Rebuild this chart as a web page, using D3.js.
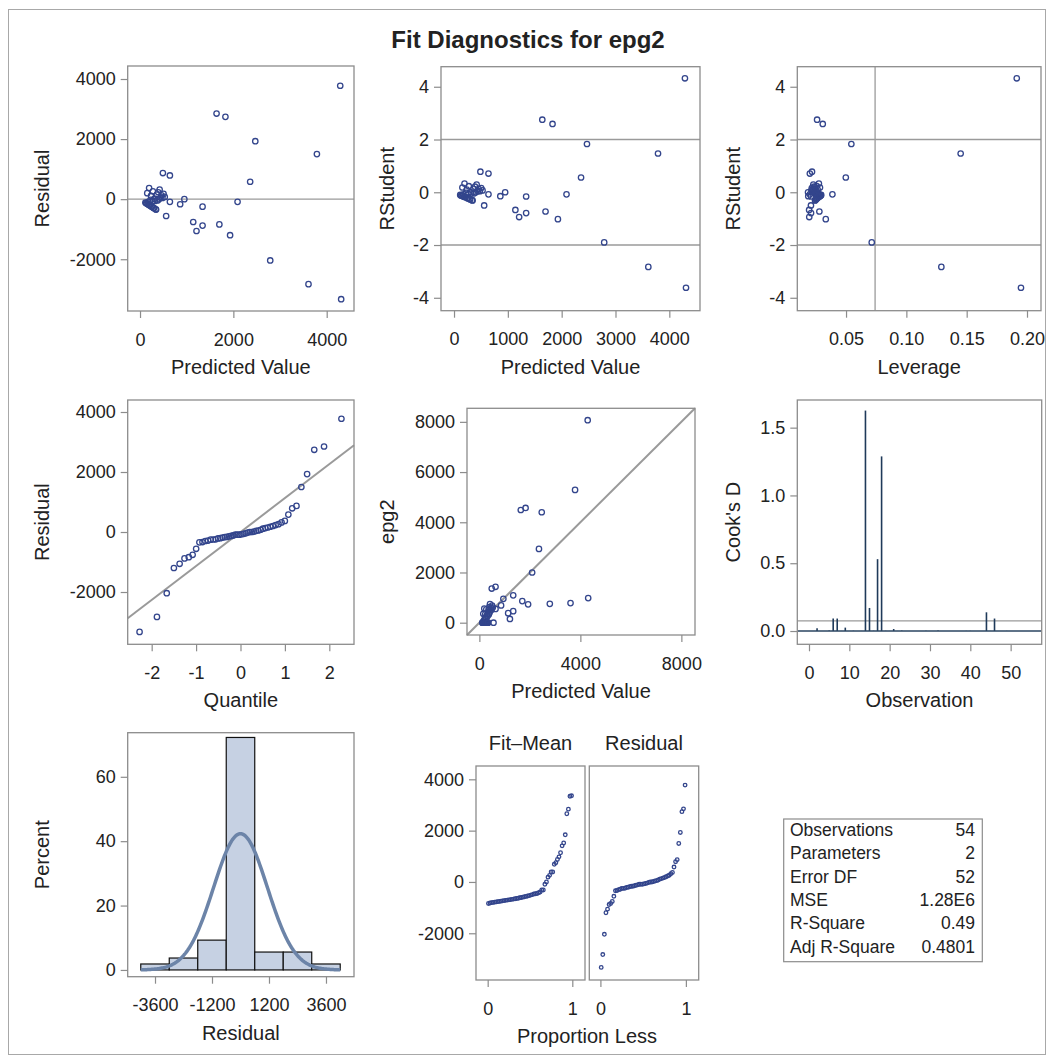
<!DOCTYPE html>
<html>
<head>
<meta charset="utf-8">
<script src="https://cdn.jsdelivr.net/npm/d3@7"></script>
<style>
  body { margin: 0; background: #fff; }
  text { font-family: "Liberation Sans", Arial, sans-serif; fill: #222; }
</style>
</head>
<body>
<svg id="chart" width="1053" height="1061"></svg>
<script>
// Per-observation values (observation 1..54)

const predicted = [115, 2360, 130, 145, 490, 1640, 1830, 155, 1930, 165, 1140, 175, 185, 4290, 3790, 640, 3610, 4310,
  195, 205, 1700, 215, 1210, 225, 235, 1340, 245, 255, 560, 265, 275, 1340, 285, 300, 950, 310, 320, 860, 335, 345,
  2090, 360, 375, 2790, 390, 2470, 405, 640, 420, 440, 460, 480, 505, 530];

const residual = [-115, 580, -130, -145, 870, 2850, 2740, 200, -1200, -165, -760, -90, -185, 3775, 1500, 790, -2830, -3330,
  370, -205, -840, -215, -1060, -20, 110, -250, -245, -255, -560, -75, 260, -880, -285, -300, 0, 15, -60, -170, -335, -345,
  -90, 150, -45, -2040, 230, 1930, 0, -90, 320, 50, 130, 40, 175, 75];

const rstudent = [-0.10, 0.56, -0.12, -0.13, 0.78, 2.75, 2.59, 0.18, -1.02, -0.15, -0.67, -0.08, -0.17, 4.32, 1.47, 0.71, -2.83, -3.62,
  0.33, -0.18, -0.73, -0.19, -0.94, -0.02, 0.10, -0.16, -0.22, -0.23, -0.50, -0.07, 0.23, -0.79, -0.25, -0.27, 0.00, 0.01, -0.05, -0.15, -0.30, -0.31,
  -0.08, 0.13, -0.04, -1.90, 0.21, 1.83, 0.00, -0.08, 0.29, 0.04, 0.12, 0.04, 0.16, 0.07];

const leverage = [0.0294, 0.0498, 0.0291, 0.0287, 0.0218, 0.0260, 0.0307, 0.0284, 0.0332, 0.0282, 0.0194, 0.0279, 0.0277, 0.1915, 0.1450, 0.0200, 0.1290, 0.1950,
  0.0275, 0.0272, 0.0279, 0.0270, 0.0195, 0.0268, 0.0265, 0.0210, 0.0263, 0.0261, 0.0209, 0.0259, 0.0257, 0.0210, 0.0255, 0.0252, 0.0185, 0.0250, 0.0248, 0.0187, 0.0245, 0.0243,
  0.0387, 0.0240, 0.0237, 0.0713, 0.0235, 0.0544, 0.0232, 0.0200, 0.0229, 0.0226, 0.0223, 0.0220, 0.0216, 0.0213];

const cooksD = [0.0001, 0.020, 0.0002, 0.0003, 0.003, 0.092, 0.092, 0.0005, 0.025, 0.0003, 0.002, 0.0001, 0.0004, 1.626, 0.170, 0.002, 0.530, 1.288,
  0.0015, 0.0005, 0.015, 0.0005, 0.003, 0, 0.0001, 0.0003, 0.0006, 0.0007, 0.002, 0.0001, 0.0007, 0.003, 0.0008, 0.0009, 0, 0, 0, 0.0002, 0.0011, 0.0012,
  0.0001, 0.0002, 0, 0.138, 0.0005, 0.092, 0, 0.0001, 0.001, 0, 0.0002, 0, 0.0003, 0.0001];

const epg2 = [0, 2940, 0, 0, 1360, 4490, 4570, 355, 730, 0, 380, 85, 0, 8065, 5290, 1430, 780, 980,
  565, 0, 860, 0, 150, 205, 345, 1090, 0, 0, 0, 190, 535, 460, 0, 0, 950, 325, 260, 690, 0, 0,
  2000, 510, 330, 750, 620, 4400, 405, 550, 740, 490, 590, 520, 680, 605];

// Residual histogram
const binCenters = [-3600, -2400, -1200, 0, 1200, 2400, 3600];
const binPercents = [1.85, 3.70, 9.26, 72.22, 5.56, 5.56, 1.85];

// Fit statistics table
const statLabels = ["Observations", "Parameters", "Error DF", "MSE", "R-Square", "Adj R-Square"];
const statValues = ["54", "2", "52", "1.28E6", "0.49", "0.4801"];

// Tick labels
const ticksPred1 = [0, 2000, 4000];
const ticksPred2 = [0, 1000, 2000, 3000, 4000];
const ticksResid = [-2000, 0, 2000, 4000];
const ticksRStud = [-4, -2, 0, 2, 4];
const ticksLev = [0.05, 0.10, 0.15, 0.20];
const ticksQuant = [-2, -1, 0, 1, 2];
const ticksObsY = [0, 2000, 4000, 6000, 8000];
const ticksObsX = [0, 4000, 8000];
const ticksCookY = [0, 0.5, 1.0, 1.5];
const ticksCookX = [0, 10, 20, 30, 40, 50];
const ticksHistX = [-3600, -1200, 1200, 3600];
const ticksHistY = [0, 20, 40, 60];
const ticksProp = [0, 1];

// Styles

const FONT = '"Liberation Sans", Arial, sans-serif';
const markerColor = "#33458c";
const frameColor = "#8c8c8c";
const refColor = "#9a9a9a";
const plain = d => String(d);

const nObs = +statValues[0];
const nParm = +statValues[1];
const mse = +statValues[3];

const svg = d3.select("#chart");

svg.append("rect")
  .attr("x", 8.5).attr("y", 9.5)
  .attr("width", 1037).attr("height", 1045)
  .attr("fill", "none").attr("stroke", "#a8a8a8");

svg.append("text")
  .attr("x", 528).attr("y", 48)
  .attr("text-anchor", "middle")
  .attr("font-size", 24).attr("font-weight", "bold")
  .text("Fit Diagnostics for epg2");

// Panel helpers

function panel(box, xDomain, yDomain) {
  const x = d3.scaleLinear().domain(xDomain).range([box.x0, box.x1]);
  const y = d3.scaleLinear().domain(yDomain).range([box.y1, box.y0]);
  const g = svg.append("g");
  return { x, y, g, box };
}

function frame(p) {
  p.g.append("rect")
    .attr("x", p.box.x0).attr("y", p.box.y0)
    .attr("width", p.box.x1 - p.box.x0).attr("height", p.box.y1 - p.box.y0)
    .attr("fill", "none").attr("stroke", frameColor).attr("stroke-width", 1.3);
}

function styleAxis(a) {
  a.attr("font-size", 18).attr("font-family", FONT);
  a.select(".domain").remove();
  a.selectAll("line").attr("stroke", frameColor).attr("stroke-width", 1.2);
  a.selectAll("text").attr("fill", "#222");
}

function xAxis(p, ticks, fmt) {
  const a = p.g.append("g")
    .attr("transform", `translate(0,${p.box.y1})`)
    .call(d3.axisBottom(p.x).tickValues(ticks).tickFormat(fmt || plain).tickSize(7).tickPadding(15));
  styleAxis(a);
}

function yAxis(p, ticks, fmt) {
  const a = p.g.append("g")
    .attr("transform", `translate(${p.box.x0},0)`)
    .call(d3.axisLeft(p.y).tickValues(ticks).tickFormat(fmt || plain).tickSize(7).tickPadding(5));
  styleAxis(a);
}

function xLabel(p, text, cx) {
  p.g.append("text")
    .attr("x", cx !== undefined ? cx : (p.box.x0 + p.box.x1) / 2)
    .attr("y", p.box.y1 + 63)
    .attr("text-anchor", "middle")
    .attr("font-size", 20)
    .text(text);
}

function yLabel(p, text, cx) {
  const cy = (p.box.y0 + p.box.y1) / 2;
  p.g.append("text")
    .attr("transform", `translate(${cx},${cy}) rotate(-90)`)
    .attr("dy", "0.35em")
    .attr("text-anchor", "middle")
    .attr("font-size", 20)
    .text(text);
}

function hLine(p, v, color) {
  p.g.append("line")
    .attr("x1", p.box.x0).attr("x2", p.box.x1)
    .attr("y1", p.y(v)).attr("y2", p.y(v))
    .attr("stroke", color || refColor).attr("stroke-width", 1.3);
}

function vLine(p, v) {
  p.g.append("line")
    .attr("x1", p.x(v)).attr("x2", p.x(v))
    .attr("y1", p.box.y0).attr("y2", p.box.y1)
    .attr("stroke", refColor).attr("stroke-width", 1.3);
}

function dots(p, xs, ys, r) {
  p.g.append("g").selectAll("circle")
    .data(xs.map((v, i) => [v, ys[i]]))
    .enter()
    .append("circle")
    .attr("cx", d => p.x(d[0]))
    .attr("cy", d => p.y(d[1]))
    .attr("r", r || 2.7)
    .attr("fill", "none")
    .attr("stroke", markerColor)
    .attr("stroke-width", 1.3);
}

// inverse normal CDF (Acklam), used for the normal quantile plotting positions
function qnorm(pr) {
  const a = [-39.69683028665376, 220.9460984245205, -275.9285104469687, 138.3577518672690, -30.66479806614716, 2.506628277459239];
  const b = [-54.47609879822406, 161.5858368580409, -155.6989798598866, 66.80131188771972, -13.28068155288572];
  const c = [-0.007784894002430293, -0.3223964580411365, -2.400758277161838, -2.549671010229583, 4.374664141464968, 2.938163982698783];
  const d = [0.007784695709041462, 0.3224671290700398, 2.445134137142996, 3.754408661907416];
  const lo = 0.02425;
  let q, r;
  if (pr < lo) {
    q = Math.sqrt(-2 * Math.log(pr));
    return (((((c[0] * q + c[1]) * q + c[2]) * q + c[3]) * q + c[4]) * q + c[5]) / ((((d[0] * q + d[1]) * q + d[2]) * q + d[3]) * q + 1);
  }
  if (pr > 1 - lo) {
    q = Math.sqrt(-2 * Math.log(1 - pr));
    return -(((((c[0] * q + c[1]) * q + c[2]) * q + c[3]) * q + c[4]) * q + c[5]) / ((((d[0] * q + d[1]) * q + d[2]) * q + d[3]) * q + 1);
  }
  q = pr - 0.5; r = q * q;
  return (((((a[0] * r + a[1]) * r + a[2]) * r + a[3]) * r + a[4]) * r + a[5]) * q / (((((b[0] * r + b[1]) * r + b[2]) * r + b[3]) * r + b[4]) * r + 1);
}

// 1. Residual by predicted value

const p1 = panel({ x0: 127.7, x1: 354, y0: 66, y1: 311 }, [-264, 4585], [-3723, 4433]);
hLine(p1, 0);
dots(p1, predicted, residual);
frame(p1);
xAxis(p1, ticksPred1);
yAxis(p1, ticksResid);
xLabel(p1, "Predicted Value");
yLabel(p1, "Residual", 42);

// 2. RStudent by predicted value

const p2 = panel({ x0: 441, x1: 700, y0: 66.7, y1: 310.7 }, [-242, 4570], [-4.49, 4.76]);
hLine(p2, 2);
hLine(p2, -2);
dots(p2, predicted, rstudent);
frame(p2);
xAxis(p2, ticksPred2);
yAxis(p2, ticksRStud);
xLabel(p2, "Predicted Value");
yLabel(p2, "RStudent", 387);

// 3. RStudent by leverage

const p3 = panel({ x0: 797.3, x1: 1041, y0: 66.7, y1: 310.7 }, [0.0096, 0.2116], [-4.49, 4.76]);
hLine(p3, 2);
hLine(p3, -2);
vLine(p3, 2 * nParm / nObs);
dots(p3, leverage, rstudent);
frame(p3);
xAxis(p3, ticksLev, d => d.toFixed(2));
yAxis(p3, ticksRStud);
xLabel(p3, "Leverage");
yLabel(p3, "RStudent", 733);

// 4. Normal quantile plot of residuals

const sortedResid = residual.slice().sort(d3.ascending);
const quantiles = sortedResid.map((v, i) => qnorm((i + 1 - 0.375) / (sortedResid.length + 0.25)));
const p4 = panel({ x0: 127.7, x1: 354, y0: 400, y1: 644.3 }, [-2.54, 2.556], [-3743, 4400]);
const sd = Math.sqrt(mse);
p4.g.append("line")
  .attr("x1", p4.x(p4.x.domain()[0])).attr("y1", p4.y(sd * p4.x.domain()[0]))
  .attr("x2", p4.x(p4.x.domain()[1])).attr("y2", p4.y(sd * p4.x.domain()[1]))
  .attr("stroke", refColor).attr("stroke-width", 2);
dots(p4, quantiles, sortedResid);
frame(p4);
xAxis(p4, ticksQuant);
yAxis(p4, ticksResid);
xLabel(p4, "Quantile");
yLabel(p4, "Residual", 42);

// 5. Observed by predicted

const obsDomain = [-490, 8540];
const p5 = panel({ x0: 467, x1: 695, y0: 408.3, y1: 635 }, obsDomain, obsDomain);
p5.g.append("line")
  .attr("x1", p5.x(obsDomain[0])).attr("y1", p5.y(obsDomain[0]))
  .attr("x2", p5.x(obsDomain[1])).attr("y2", p5.y(obsDomain[1]))
  .attr("stroke", refColor).attr("stroke-width", 2);
dots(p5, predicted, epg2);
frame(p5);
xAxis(p5, ticksObsX);
yAxis(p5, ticksObsY);
xLabel(p5, "Predicted Value");
yLabel(p5, "epg2", 387);

// 6. Cook's D by observation

const p6 = panel({ x0: 797.3, x1: 1041.7, y0: 400, y1: 644.3 }, [-2.9, 57.7], [-0.098, 1.704]);
hLine(p6, 4 / nObs);
p6.g.append("g").selectAll("line")
  .data(cooksD)
  .enter()
  .append("line")
  .attr("x1", (d, i) => p6.x(i + 1)).attr("x2", (d, i) => p6.x(i + 1))
  .attr("y1", p6.y(0)).attr("y2", d => p6.y(d))
  .attr("stroke", "#1f3a5a").attr("stroke-width", 1.6);
hLine(p6, 0, "#2a4560");
frame(p6);
xAxis(p6, ticksCookX);
yAxis(p6, ticksCookY, d3.format(".1f"));
xLabel(p6, "Observation");
yLabel(p6, "Cook's D", 733);

// 7. Histogram of residuals with normal curve

const binWidth = binCenters[1] - binCenters[0];
const p7 = panel({ x0: 127.7, x1: 354, y0: 732.7, y1: 976.7 }, [-4750, 4780], [-2.1, 73.7]);
p7.g.append("g").selectAll("rect")
  .data(binCenters)
  .enter()
  .append("rect")
  .attr("x", d => p7.x(d - binWidth / 2))
  .attr("width", p7.x(binWidth) - p7.x(0))
  .attr("y", (d, i) => p7.y(binPercents[i]))
  .attr("height", (d, i) => p7.y(0) - p7.y(binPercents[i]))
  .attr("fill", "#c6d1e3")
  .attr("stroke", "#111")
  .attr("stroke-width", 1.2);
const curveX = d3.range(201).map(i => binCenters[0] - binWidth / 2 + i * (binWidth * binCenters.length) / 200);
const normalLine = d3.line()
  .x(v => p7.x(v))
  .y(v => p7.y(100 * binWidth * Math.exp(-0.5 * (v / sd) * (v / sd)) / (sd * Math.sqrt(2 * Math.PI))));
p7.g.append("path")
  .attr("d", normalLine(curveX))
  .attr("fill", "none")
  .attr("stroke", "#6c84a8")
  .attr("stroke-width", 3.5);
frame(p7);
xAxis(p7, ticksHistX);
yAxis(p7, ticksHistY);
xLabel(p7, "Residual");
yLabel(p7, "Percent", 42);

// 8. Residual-fit spread plot

const meanPred = d3.mean(predicted);
const fitMean = predicted.map(v => v - meanPred).sort(d3.ascending);
const propLess = fitMean.map((v, i) => (i + 0.5) / fitMean.length);
const rfY = [-3821, 4519];
const p8a = panel({ x0: 476, x1: 585, y0: 766, y1: 980 }, [-0.138, 1.15], rfY);
const p8b = panel({ x0: 589.3, x1: 698.7, y0: 766, y1: 980 }, [-0.13, 1.15], rfY);
dots(p8a, propLess, fitMean, 1.8);
dots(p8b, propLess, sortedResid, 1.8);
frame(p8a);
frame(p8b);
xAxis(p8a, ticksProp);
xAxis(p8b, ticksProp);
yAxis(p8a, ticksResid);
[[p8a, "Fit\u2013Mean"], [p8b, "Residual"]].forEach(([p, t]) => {
  p.g.append("text")
    .attr("x", (p.box.x0 + p.box.x1) / 2)
    .attr("y", 750)
    .attr("text-anchor", "middle")
    .attr("font-size", 20)
    .text(t);
});
xLabel(p8a, "Proportion Less", 587);

// Fit statistics box

const stats = svg.append("g");
stats.append("rect")
  .attr("x", 783.7).attr("y", 819)
  .attr("width", 198.6).attr("height", 142.7)
  .attr("fill", "none").attr("stroke", "#8c8c8c").attr("stroke-width", 1.2);
statLabels.forEach((lab, i) => {
  const yy = 836 + i * 23.35;
  stats.append("text").attr("x", 790).attr("y", yy).attr("font-size", 17.5).text(lab);
  stats.append("text").attr("x", 975).attr("y", yy).attr("font-size", 17.5)
    .attr("text-anchor", "end").text(statValues[i]);
});
</script>
</body>
</html>
